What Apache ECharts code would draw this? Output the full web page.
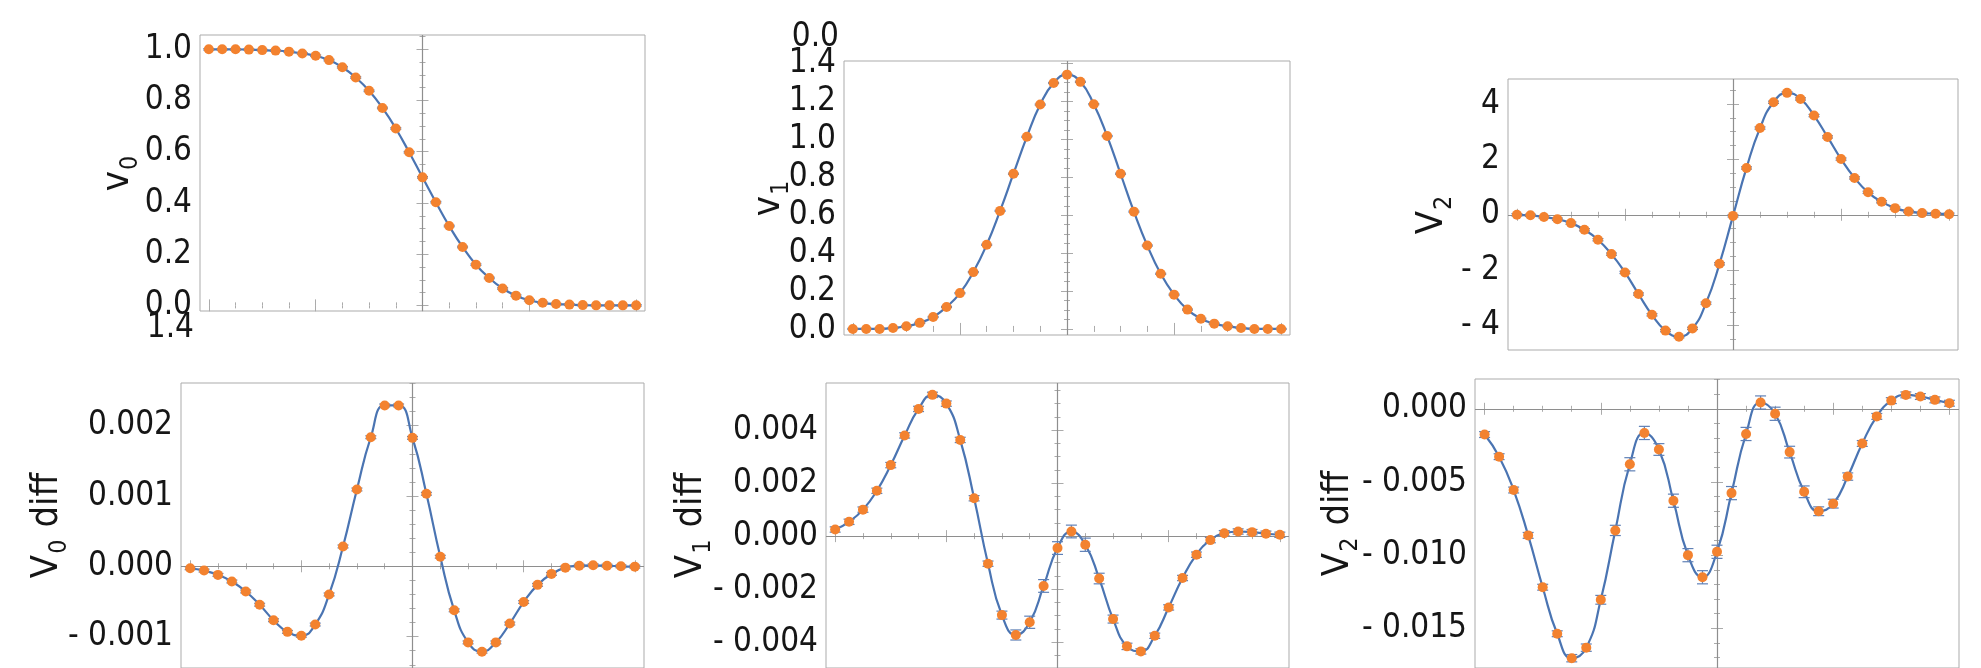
<!DOCTYPE html>
<html>
<head>
<meta charset="utf-8">
<script src="https://cdn.jsdelivr.net/npm/echarts@6/dist/echarts.min.js"></script>
<style>
html,body{margin:0;padding:0;background:#ffffff;}
#chart{width:1981px;height:668px;}
</style>
</head>
<body>
<div id="chart"></div>
<script>
// ---------------- data ----------------
const xs = [-4,-3.75,-3.5,-3.25,-3,-2.75,-2.5,-2.25,-2,-1.75,-1.5,-1.25,-1,-0.75,-0.5,-0.25,0,
            0.25,0.5,0.75,1,1.25,1.5,1.75,2,2.25,2.5,2.75,3,3.25,3.5,3.75,4];

const v0 = [1.000,1.000,1.000,0.999,0.997,0.995,0.991,0.984,0.975,0.958,0.930,0.890,0.838,0.771,0.691,0.598,0.500,
            0.403,0.310,0.228,0.159,0.107,0.066,0.038,0.020,0.010,0.005,0.003,0.001,0.000,0.000,0.000,0.000];
const v1 = [0.000,0.000,0.000,0.005,0.014,0.032,0.063,0.116,0.189,0.300,0.444,0.623,0.819,1.014,1.184,1.298,1.342,
            1.304,1.186,1.018,0.819,0.619,0.440,0.291,0.181,0.102,0.054,0.028,0.014,0.005,0.000,0.000,0.000];
const v2 = [0.00,-0.02,-0.08,-0.16,-0.30,-0.54,-0.90,-1.42,-2.08,-2.86,-3.61,-4.18,-4.40,-4.10,-3.19,-1.77,-0.04,
            1.69,3.13,4.06,4.40,4.18,3.58,2.81,2.01,1.33,0.81,0.47,0.24,0.12,0.06,0.04,0.02];
const v0diff = [-0.000028,-0.000061,-0.000122,-0.000216,-0.000358,-0.000546,-0.000767,-0.000932,-0.000988,-0.000828,-0.000400,
                0.000282,0.001092,0.001835,0.002287,0.002287,0.001826,0.001031,0.000136,-0.000626,-0.001082,-0.001214,
                -0.001082,-0.000814,-0.000508,-0.000264,-0.000108,-0.000019,0.000009,0.000014,0.000009,0.000000,-0.000005];
const v1diff = [0.00025,0.00054,0.00100,0.00171,0.00268,0.00380,0.00480,0.00533,0.00500,0.00363,0.00143,
                -0.00104,-0.00298,-0.00373,-0.00325,-0.00188,-0.00045,0.000175,-0.000325,-0.00160,-0.00313,-0.00416,
                -0.00435,-0.00376,-0.00269,-0.00158,-0.00070,-0.00015,0.00011,0.000175,0.00015,0.00009,0.00005];
const v2diff = [-0.00176,-0.00327,-0.00555,-0.00865,-0.01219,-0.01537,-0.01704,-0.01632,-0.01305,-0.00831,-0.00379,
                -0.00165,-0.00278,-0.00628,-0.01000,-0.01151,-0.00977,-0.00576,-0.00172,0.00043,-0.00034,-0.00296,
                -0.00567,-0.00700,-0.00648,-0.00463,-0.00237,-0.00052,0.00056,0.00095,0.00084,0.00061,0.00038];

// error bar half-widths
const v0Err = [0.003,0.003,0.003,0.003,0.003,0.003,0.003,0.003,0.003,0.003,0.003,0.003,0.003,0.003,0.003,0.003,0.003,
               0.003,0.003,0.003,0.003,0.003,0.003,0.003,0.003,0.003,0.003,0.003,0.003,0.003,0.003,0.003,0.003];
const v1Err = [0.003,0.003,0.003,0.003,0.003,0.003,0.003,0.003,0.003,0.003,0.003,0.003,0.003,0.003,0.003,0.003,0.003,
               0.003,0.003,0.003,0.003,0.003,0.003,0.003,0.003,0.003,0.003,0.003,0.003,0.003,0.003,0.003,0.003];
const v2Err = [0.04,0.04,0.04,0.04,0.04,0.04,0.04,0.04,0.04,0.04,0.04,0.04,0.04,0.04,0.04,0.04,0.04,
               0.04,0.04,0.04,0.04,0.04,0.04,0.04,0.04,0.04,0.04,0.04,0.04,0.04,0.04,0.04,0.04];
const v0diffErr = [0.00002,0.00002,0.00002,0.00002,0.00002,0.00002,0.00002,0.00002,0.00002,0.00002,0.00002,
                   0.00002,0.00002,0.00002,0.00002,0.00002,0.00002,0.00002,0.00002,0.00002,0.00002,0.00002,
                   0.00002,0.00002,0.00002,0.00002,0.00002,0.00002,0.00002,0.00002,0.00002,0.00002,0.00002];
const v1diffErr = [0.0001,0.0001,0.0001,0.0001,0.0001,0.0001,0.0001,0.0001,0.0001,0.0001,0.0001,
                   0.0001,0.00015,0.00019,0.00023,0.00024,0.00024,0.00024,0.00025,0.0002,0.00015,0.00012,
                   0.0001,0.0001,0.0001,0.0001,0.0001,0.0001,0.0001,0.0001,0.0001,0.0001,0.0001];
const v2diffErr = [0.0002,0.0002,0.0002,0.0002,0.0002,0.0002,0.00025,0.00025,0.0003,0.00035,0.00045,
                   0.00045,0.0004,0.00045,0.00045,0.00045,0.00045,0.00045,0.00045,0.00045,0.00045,0.0004,
                   0.0004,0.0003,0.0003,0.00025,0.0002,0.0002,0.0002,0.0002,0.0002,0.0002,0.0002];

// tick values and labels
const xMajorTicks = [-4,-2,0,2,4];
const v0TickVals = [0,0.2,0.4,0.6,0.8,1.0];
const v0TickText = ['0.0','0.2','0.4','0.6','0.8','1.0'];
const v1TickVals = [0,0.2,0.4,0.6,0.8,1.0,1.2,1.4];
const v1TickText = ['0.0','0.2','0.4','0.6','0.8','1.0','1.2','1.4'];
const v2TickVals = [-4,-2,0,2,4];
const v2TickText = ['- 4','- 2','0','2','4'];
const v0diffTickVals = [-0.001,0,0.001,0.002];
const v0diffTickText = ['- 0.001','0.000','0.001','0.002'];
const v1diffTickVals = [-0.004,-0.002,0,0.002,0.004];
const v1diffTickText = ['- 0.004','- 0.002','0.000','0.002','0.004'];
const v2diffTickVals = [-0.015,-0.010,-0.005,0];
const v2diffTickText = ['- 0.015','- 0.010','- 0.005','0.000'];

// stray labels present in the original figure
const strayLabels = [{text:'0.0', x:839, y:37}, {text:'1.4', x:194, y:328}];

// ---------------- layout / style ----------------
const FONT = "'Liberation Sans Narrow','DejaVu Sans Condensed','Liberation Sans',sans-serif";
const ORANGE = '#F3822F';
const BLUE = '#4A74B2';
const ERRC = '#5f80b6';
const FRAME = '#ababab';
const ZERO = '#8e8e8e';
const XMIN = -4.165, XMAX = 4.165;

const panels = [
  {nm:'v', sub:'0', tail:'', y:v0, e:v0Err, tv:v0TickVals, tt:v0TickText, minor:0.05,
   grid:{left:200,top:35,width:445,height:276}, ymin:-0.022, ymax:1.056, gap:57, zeroY:false},
  {nm:'v', sub:'1', tail:'', y:v1, e:v1Err, tv:v1TickVals, tt:v1TickText, minor:0.05,
   grid:{left:844,top:61,width:446,height:274}, ymin:-0.032, ymax:1.414, gap:50, zeroY:false},
  {nm:'V', sub:'2', tail:'', y:v2, e:v2Err, tv:v2TickVals, tt:v2TickText, minor:0.5,
   grid:{left:1508,top:79,width:450,height:271}, ymin:-4.88, ymax:4.90, gap:51, zeroY:true},
  {nm:'V', sub:'0', tail:' diff', y:v0diff, e:v0diffErr, tv:v0diffTickVals, tt:v0diffTickText, minor:0.0002,
   grid:{left:181,top:383,width:463,height:287}, ymin:-0.001446, ymax:0.002606, gap:109, zeroY:true},
  {nm:'V', sub:'1', tail:' diff', y:v1diff, e:v1diffErr, tv:v1diffTickVals, tt:v1diffTickText, minor:0.0005,
   grid:{left:826,top:383,width:463,height:287}, ymin:-0.004976, ymax:0.005778, gap:110, zeroY:true},
  {nm:'V', sub:'2', tail:' diff', y:v2diff, e:v2diffErr, tv:v2diffTickVals, tt:v2diffTickText, minor:0.001,
   grid:{left:1475,top:379,width:484,height:291}, ymin:-0.01771, ymax:0.002036, gap:112, zeroY:true}
];

function stepTicks(lo, hi, step) {
  const out = [];
  for (let k = Math.ceil(lo / step - 1e-9); k * step <= hi + 1e-12; k++) out.push(+(k * step).toFixed(10));
  return out;
}
const xMinorTicks = stepTicks(XMIN, XMAX, 0.5);

const grids = [], xAxes = [], yAxes = [], series = [];

panels.forEach((p, i) => {
  grids.push(Object.assign({show:true, borderColor:FRAME, borderWidth:1, backgroundColor:'transparent', containLabel:false}, p.grid));
  const yMinor = stepTicks(p.ymin, p.ymax, p.minor);
  const tickStyle = {color:FRAME, width:1};
  ['bottom','top'].forEach(pos => {
    [[xMajorTicks,6],[xMinorTicks,3]].forEach(([vals,len]) => {
      xAxes.push({gridIndex:i, type:'value', position:pos, min:XMIN, max:XMAX,
        axisLine:{show:false}, splitLine:{show:false}, axisLabel:{show:false},
        axisTick:{show:true, inside:true, length:len, customValues:vals, lineStyle:tickStyle}});
    });
  });
  ['left','right'].forEach(pos => {
    [[p.tv,6],[yMinor,3]].forEach(([vals,len], j) => {
      const ax = {gridIndex:i, type:'value', position:pos, min:p.ymin, max:p.ymax,
        axisLine:{show:false}, splitLine:{show:false},
        axisTick:{show:true, inside:true, length:len, customValues:vals, lineStyle:tickStyle},
        axisLabel:{show:false}};
      if (pos === 'left' && j === 0) {
        ax.axisLabel = {show:true, customValues:p.tv, margin:8, fontFamily:FONT, fontSize:33, color:'#161616',
          formatter: v => { const k = p.tv.findIndex(t => Math.abs(t - v) < 1e-9); return k >= 0 ? p.tt[k] : ''; }};
        ax.name = '{m|' + p.nm + '}{s|' + p.sub + '}' + (p.tail ? '{m|' + p.tail + '}' : '');
        ax.nameLocation = 'middle';
        ax.nameRotate = 90;
        ax.nameGap = p.gap;
        ax.nameMoveOverlap = false;
        ax.nameTextStyle = {fontFamily:FONT, color:'#161616', rich:{
          m:{fontFamily:FONT, fontSize:38, lineHeight:44, verticalAlign:'top', color:'#161616'},
          s:{fontFamily:FONT, fontSize:25, lineHeight:25, verticalAlign:'top', padding:[19,1,0,1], color:'#161616'}
        }};
      }
      yAxes.push(ax);
    });
  });
  const xi = i * 4, yi = i * 4;
  const pts = xs.map((x, k) => [x, p.y[k]]);
  const markData = [{xAxis:0}];
  if (p.zeroY) markData.push({yAxis:0});
  series.push({type:'line', xAxisIndex:xi, yAxisIndex:yi, data:pts, smooth:0.5, showSymbol:false, symbol:'none',
    lineStyle:{color:BLUE, width:2.2}, z:3, silent:true,
    markLine:{silent:true, symbol:'none', label:{show:false}, lineStyle:{color:ZERO, width:1.2, type:'solid'},
      emphasis:{disabled:true}, data:markData, z:1}});
  series.push({type:'custom', xAxisIndex:xi, yAxisIndex:yi, z:4, silent:true,
    data: xs.map((x, k) => [x, p.y[k], p.e[k]]),
    encode:{x:0, y:1},
    renderItem: (params, api) => {
      const x = api.value(0), y = api.value(1), e = api.value(2);
      const a = api.coord([x, y + e]), b = api.coord([x, y - e]);
      const hw = 5.5;
      const st = {stroke:ERRC, lineWidth:1.2};
      return {type:'group', children:[
        {type:'line', shape:{x1:a[0], y1:a[1], x2:b[0], y2:b[1]}, style:st},
        {type:'line', shape:{x1:a[0]-hw, y1:a[1], x2:a[0]+hw, y2:a[1]}, style:st},
        {type:'line', shape:{x1:b[0]-hw, y1:b[1], x2:b[0]+hw, y2:b[1]}, style:st}
      ]};
    }});
  series.push({type:'scatter', xAxisIndex:xi, yAxisIndex:yi, data:pts, symbol:'circle', symbolSize:10,
    itemStyle:{color:ORANGE, opacity:1}, z:5, silent:true});
});

const chart = echarts.init(document.getElementById('chart'), null, {renderer:'canvas'});
chart.setOption({
  animation:false,
  backgroundColor:'#ffffff',
  grid:grids, xAxis:xAxes, yAxis:yAxes, series:series,
  graphic: strayLabels.map(s => ({type:'text', x:s.x, y:s.y, silent:true,
    style:{text:s.text, fontFamily:FONT, fontSize:33, fill:'#161616', align:'right', verticalAlign:'middle'}}))
});
</script>
</body>
</html>
